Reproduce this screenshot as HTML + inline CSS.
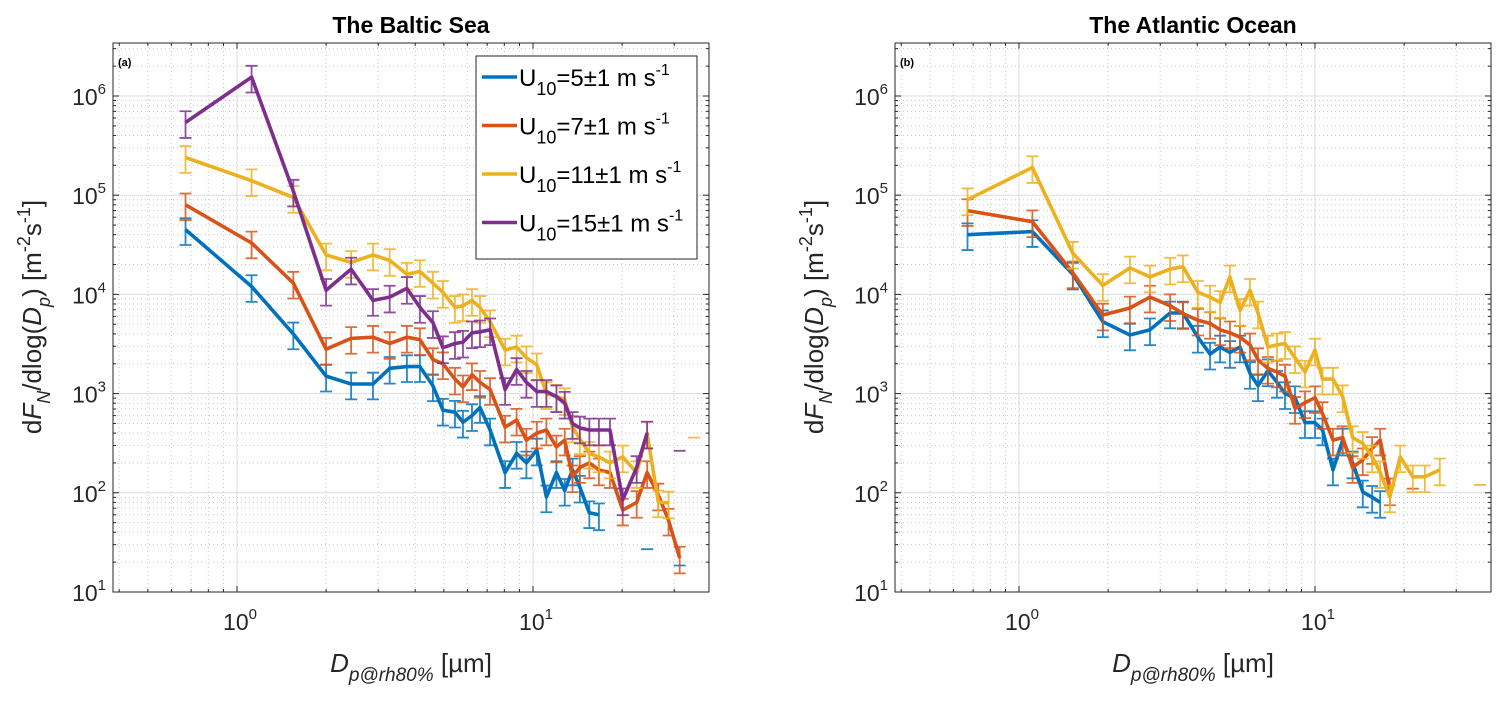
<!DOCTYPE html>
<html><head><meta charset="utf-8"><style>
html,body{margin:0;padding:0;background:#fff;}
svg{display:block;font-family:"Liberation Sans",Arial,sans-serif;}
</style></head><body>
<svg id="fig" width="1499" height="705" viewBox="0 0 1499 705" xmlns="http://www.w3.org/2000/svg">
<defs>
<clipPath id="clipL"><rect x="113" y="43" width="596" height="549"/></clipPath>
<clipPath id="clipR"><rect x="895" y="43" width="596" height="549"/></clipPath>
</defs>
</svg>
<script>
// ---- data ----
const leftDiam=[0.67,1.12,1.55,2.0,2.43,2.88,3.28,3.75,4.15,4.59,4.96,5.45,5.8,6.22,6.62,7.16,8.05,8.8,9.5,10.3,11.1,12.0,12.8,13.6,14.4,15.5,16.7,18.2,20.1,22.4,24.3,26.5,28.7,31.3,35.0];
const rightDiam=[0.67,1.11,1.52,1.92,2.37,2.77,3.24,3.58,4.02,4.42,4.78,5.16,5.58,6.03,6.42,6.93,7.44,7.92,8.56,9.25,10,10.6,11.5,12.4,13.4,14.5,15.6,16.6,17.9,19.4,21.4,23.5,26.4,29.7,36.1];
const N=null;
const leftU5=[4.5e4,1.2e4,4e3,1.5e3,1.25e3,1.25e3,1.8e3,1.87e3,1.87e3,1.2e3,680,650,515,600,725,430,160,250,200,270,91,160,106,170,114,63,60,N,N,N,27,N,N,18.5,N];
const leftU7=[8e4,3.3e4,1.3e4,2.8e3,3.6e3,3.7e3,3.2e3,3.7e3,3.5e3,2.2e3,2.0e3,1.4e3,1.17e3,1.55e3,1.3e3,1.1e3,460,540,340,400,430,290,340,145,180,200,170,160,67,80,160,95,53,22,N];
const leftU11=[2.4e5,1.4e5,9.5e4,2.5e4,2.1e4,2.5e4,2.2e4,1.6e4,1.7e4,1.3e4,1.05e4,7.4e3,7.7e3,8.7e3,7.4e3,5.3e3,2.75e3,2.95e3,2.3e3,1.95e3,1.0e3,940,870,460,350,250,230,200,230,160,400,81,79,N,360];
const leftU15=[5.4e5,1.55e6,1.1e5,1.1e4,1.8e4,8.7e3,9.4e3,1.15e4,7.4e3,5.2e3,2.9e3,3.2e3,3.3e3,4.1e3,4.2e3,4.4e3,1.1e3,1.75e3,1.3e3,1.05e3,1.05e3,930,800,500,450,430,430,430,85,180,400,N,N,265,N];
const rightU5=[4e4,4.3e4,1.6e4,5.3e3,3.9e3,4.4e3,6.5e3,6.5e3,3.7e3,2.5e3,2.95e3,2.6e3,2.95e3,1.6e3,1.2e3,1.7e3,1.3e3,1.0e3,910,510,510,430,170,340,200,102,90,80,N,N,N,N,N,N,N];
const rightU7=[7e4,5.4e4,1.65e4,6.2e3,7.3e3,9.4e3,7.7e3,6.4e3,5.5e3,5.1e3,4.4e3,4.1e3,3.7e3,3.1e3,2.2e3,1.8e3,1.65e3,1.5e3,710,810,910,630,340,360,180,215,280,340,107,N,110,N,N,N,N];
const rightU11=[9e4,1.9e5,2.6e4,1.23e4,1.85e4,1.5e4,1.8e4,1.9e4,1.05e4,9.4e3,8.3e3,1.5e4,6.9e3,1.1e4,6.5e3,2.95e3,3.1e3,3.2e3,2.3e3,1.65e3,2.75e3,1.4e3,1.4e3,930,360,315,230,160,91,230,145,145,170,N,120];
const errFrac=0.3;
const yExps=[1,2,3,4,5,6];
const xExps=[0,1];
const legendLabels=["5","7","11","15"];
const COLORS=["#0072BD","#D95319","#EDB120","#7E2F8E"];

// ---- axes ----
const PY0=43,PY1=592,PW=596,DEC_Y=99.2,DEC_X=296;
function xpx(left,d){return left+124+DEC_X*Math.log10(d);}
function ypx(v){return PY1-(Math.log10(v)-1)*DEC_Y;}
const svg=document.getElementById('fig');
const NS="http://www.w3.org/2000/svg";
function mk(tag,attrs,parent){const e=document.createElementNS(NS,tag);for(const k in attrs)e.setAttribute(k,attrs[k]);(parent||svg).appendChild(e);return e;}

function drawPanel(left,title,letter,clip,series,diam,pname){
  const g=mk('g',{});
  
  
  const xmin=Math.pow(10,(left-xpx(left,1))/DEC_X), xmax=Math.pow(10,(left+PW-xpx(left,1))/DEC_X);
  for(let e=-1;e<=1;e++)for(let m=1;m<=9;m++){const d=m*Math.pow(10,e);if(d<xmin||d>xmax)continue;const x=xpx(left,d);
    if(m===1){const l=mk('line',{x1:x,y1:PY0,x2:x,y2:PY1,stroke:'#dcdcdc','stroke-width':1},g);}
    else{const l=mk('line',{x1:x,y1:PY0,x2:x,y2:PY1,stroke:'#c8c8c8','stroke-width':1,'stroke-dasharray':'1,3'},g);}
    mk('line',{x1:x,y1:PY1,x2:x,y2:PY1-(m===1?6:3),stroke:'#262626'},g);mk('line',{x1:x,y1:PY0,x2:x,y2:PY0+(m===1?6:3),stroke:'#262626'},g);}
  for(let e=1;e<=6;e++)for(let m=1;m<=9;m++){const v=m*Math.pow(10,e);const y=ypx(v);if(y<PY0)continue;
    if(m===1){const l=mk('line',{x1:left,y1:y,x2:left+PW,y2:y,stroke:'#dcdcdc','stroke-width':1},g);}
    else{const l=mk('line',{x1:left,y1:y,x2:left+PW,y2:y,stroke:'#c8c8c8','stroke-width':1,'stroke-dasharray':'1,3'},g);}
    mk('line',{x1:left,y1:y,x2:left+(m===1?6:3),y2:y,stroke:'#262626'},g);mk('line',{x1:left+PW,y1:y,x2:left+PW-(m===1?6:3),y2:y,stroke:'#262626'},g);}
  const sg=mk('g',{'clip-path':'url(#'+clip+')'},g);
  series.forEach((vals,si)=>{
    const col=COLORS[si];
    const s=mk('g',{},sg);
    
    
    vals.forEach((v,i)=>{if(v==null)return;const x=xpx(left,diam[i]);
      const isolated=(vals[i-1]==null)&&(vals[i+1]==null);
      const lo=isolated?v:v*(1-errFrac),hi=isolated?v:v*(1+errFrac);
      const eb=mk('path',{d:`M${x},${ypx(lo)}V${ypx(hi)}M${x-6},${ypx(lo)}h12M${x-6},${ypx(hi)}h12`,stroke:col,'stroke-width':1.8,fill:'none','stroke-opacity':0.85},s);
      
      });
    let d='';let pen=false;
    vals.forEach((v,i)=>{if(v==null){pen=false;return;}const x=xpx(left,diam[i]),y=ypx(v);d+=(pen?'L':'M')+x.toFixed(1)+','+y.toFixed(1);pen=true;});
    const p=mk('path',{d:d,stroke:col,'stroke-width':3.6,fill:'none','stroke-linejoin':'round'},s);
    
    
  });
  const b=mk('rect',{x:left,y:PY0,width:PW,height:PY1-PY0,fill:'none',stroke:'#262626','stroke-width':1},g);
  
  
  yExps.forEach(e=>{const t=mk('text',{x:left-7,y:ypx(Math.pow(10,e))+9,'text-anchor':'end','font-size':23,fill:'#262626'},g);
    
    
    t.innerHTML='10<tspan dy="-11" font-size="15">'+e+'</tspan>';});
  xExps.forEach(e=>{const t=mk('text',{x:xpx(left,Math.pow(10,e))+3,y:630,'text-anchor':'middle','font-size':23,fill:'#262626'},g);
    
    
    t.innerHTML='10<tspan dy="-11" font-size="15">'+e+'</tspan>';});
  const tt=mk('text',{x:left+PW/2,y:33,'text-anchor':'middle','font-size':23,'font-weight':'bold',fill:'#000'},g);
  
  
  tt.textContent=title;
  const lt=mk('text',{x:left+5,y:66,'font-size':11,'font-weight':'bold',fill:'#000'},g);
  
  
  lt.textContent=letter;
  const xl=mk('text',{x:left+PW/2,y:672,'text-anchor':'middle','font-size':26,fill:'#262626'},g);
  
  
  xl.innerHTML='<tspan font-style="italic">D</tspan><tspan dy="9" font-size="19" font-style="italic">p@rh80%</tspan><tspan dy="-9"> [µm]</tspan>';
  const yl=mk('text',{x:0,y:0,'text-anchor':'middle','font-size':26,fill:'#262626',transform:`translate(${left-72},317) rotate(-90)`},g);
  
  
  yl.innerHTML='d<tspan font-style="italic">F</tspan><tspan dy="9" font-size="18" font-style="italic">N</tspan><tspan dy="-9">/dlog(</tspan><tspan font-style="italic">D</tspan><tspan dy="9" font-size="18" font-style="italic">p</tspan><tspan dy="-9">) [m</tspan><tspan dy="-11" font-size="18">-2</tspan><tspan dy="11">s</tspan><tspan dy="-11" font-size="18">-1</tspan><tspan dy="11">]</tspan>';
}
drawPanel(113,'The Baltic Sea','(a)','clipL',[leftU5,leftU7,leftU11,leftU15],leftDiam,'baltic');
drawPanel(895,'The Atlantic Ocean','(b)','clipR',[rightU5,rightU7,rightU11],rightDiam,'atlantic');

const lg=mk('g',{});


mk('rect',{x:476,y:56,width:221,height:203,fill:'#fff',stroke:'#262626','stroke-width':1},lg);
legendLabels.forEach((lab,i)=>{const y=77+i*48.5;
  const ent=mk('g',{},lg);
  
  
  mk('line',{x1:482,y1:y,x2:517,y2:y,stroke:COLORS[i],'stroke-width':3.6},ent);
  const t=mk('text',{x:519,y:y+9,'font-size':24,fill:'#000'},ent);
  t.innerHTML='U<tspan dy="9" font-size="18">10</tspan><tspan dy="-9">='+lab+'±1 m s</tspan><tspan dy="-11" font-size="16">-1</tspan>';
});
</script>
</body></html>
